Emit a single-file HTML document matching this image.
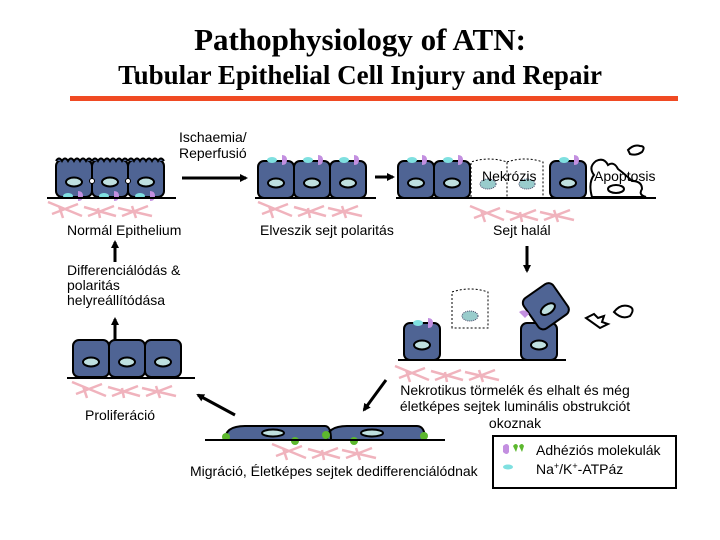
<!DOCTYPE html>
<html><head><meta charset="utf-8"><style>
body{margin:0;background:#fff;}
svg{display:block;font-family:"Liberation Sans",sans-serif;}
</style></head><body>
<svg width="720" height="540" viewBox="0 0 720 540" xmlns="http://www.w3.org/2000/svg">
<defs>
<marker id="ah" markerWidth="8" markerHeight="8" refX="6" refY="4" orient="auto" markerUnits="userSpaceOnUse"><path d="M0,0 L8,4 L0,8 z" fill="#000"/></marker>
<g id="fib" stroke="#f0b3bd" stroke-width="2.5" fill="none"><path d="M0,0 L34,14 M4,12 L30,2 M11,4 L15,16 M36,5 L68,14 M40,14 L66,4 M50,6 L52,16 M70,6 L104,14 M74,14 L100,4 M84,4 L88,16"/></g>
<g id="cell"><rect x="0" y="0" width="36" height="37" rx="6" fill="#4f6494" stroke="#000" stroke-width="2"/><ellipse cx="18" cy="22" rx="8" ry="4.5" fill="#bfe0e0" stroke="#000" stroke-width="2"/></g>
<g id="top"><ellipse cx="10" cy="0" rx="5" ry="3" fill="#7fe0e0"/><path d="M20,-5 q5,0 5,5 q0,5 -5,5 z" fill="#c38fe0"/></g>
</defs>
<text x="360" y="50" text-anchor="middle" font-family="Liberation Serif,serif" font-weight="bold" font-size="31">Pathophysiology of ATN:</text>
<text x="360" y="84" text-anchor="middle" font-family="Liberation Serif,serif" font-weight="bold" font-size="27">Tubular Epithelial Cell Injury and Repair</text>
<rect x="70" y="96" width="608" height="5" fill="#f04a23"/>

<g font-size="14">
<!-- row1 normal -->
<use href="#cell" x="56" y="160"/><use href="#cell" x="92" y="160"/><use href="#cell" x="128" y="160"/>
<path d="M56,161 q3,-5 6,0 q3,-5 6,0 q3,-5 6,0 q3,-5 6,0 q3,-5 6,0 q3,-5 6,0 M92,161 q3,-5 6,0 q3,-5 6,0 q3,-5 6,0 q3,-5 6,0 q3,-5 6,0 q3,-5 6,0 M128,161 q3,-5 6,0 q3,-5 6,0 q3,-5 6,0 q3,-5 6,0 q3,-5 6,0 q3,-5 6,0" stroke="#000" stroke-width="2" fill="#4f6494"/>
<circle cx="92" cy="181" r="2.5" fill="#fff" stroke="#000"/><circle cx="128" cy="181" r="2.5" fill="#fff" stroke="#000"/>
<use href="#top" x="58" y="196"/><use href="#top" x="94" y="196"/><use href="#top" x="130" y="196"/>
<line x1="47" y1="198" x2="176" y2="198" stroke="#000" stroke-width="2"/>
<use href="#fib" x="48" y="202"/>
<text x="67" y="235">Normál Epithelium</text>
<text x="179" y="142">Ischaemia/</text><text x="179" y="158">Reperfusió</text>
<line x1="182" y1="178" x2="246" y2="178" stroke="#000" stroke-width="3" marker-end="url(#ah)"/>

<!-- row2 -->
<use href="#cell" x="258" y="161"/><use href="#cell" x="294" y="161"/><use href="#cell" x="330" y="161"/>
<use href="#top" x="262" y="160"/><use href="#top" x="298" y="160"/><use href="#top" x="334" y="160"/>
<line x1="255" y1="198" x2="376" y2="198" stroke="#000" stroke-width="2"/>
<use href="#fib" x="258" y="202"/>
<text x="260" y="235">Elveszik sejt polaritás</text>
<line x1="375" y1="177" x2="393" y2="177" stroke="#000" stroke-width="3" marker-end="url(#ah)"/>

<!-- row3 -->
<use href="#cell" x="398" y="161"/><use href="#cell" x="434" y="161"/>
<use href="#top" x="402" y="160"/><use href="#top" x="438" y="160"/>
<path d="M471,197 V162 q18,-6 36,0 V197 M507,162 q18,-6 36,0 V197" stroke="#000" stroke-dasharray="2,2" fill="#fff"/>
<ellipse cx="488" cy="184" rx="8" ry="5" fill="#9cc" stroke="#446" stroke-dasharray="1,1"/>
<ellipse cx="527" cy="184" rx="8" ry="5" fill="#9cc" stroke="#446" stroke-dasharray="1,1"/>
<text x="482" y="181">Nekrózis</text>
<use href="#cell" x="550" y="161"/><use href="#top" x="554" y="160"/>
<path d="M592,197 q-4,-14 2,-22 q-6,-8 2,-14 q8,-4 12,4 q6,-4 10,4 q8,6 14,12 q10,0 10,8 q-4,6 4,8 z" fill="#fff" stroke="#000" stroke-width="2"/>
<ellipse cx="616" cy="189" rx="8" ry="4" fill="#fff" stroke="#000" stroke-width="2"/>
<path d="M628,150 q6,-6 12,-4 q6,0 2,6 q-6,4 -12,2 z" fill="#fff" stroke="#000" stroke-width="2"/>
<text x="594" y="181">Apoptosis</text>
<line x1="396" y1="198" x2="656" y2="198" stroke="#000" stroke-width="2"/>
<use href="#fib" x="470" y="206"/>
<text x="493" y="235">Sejt halál</text>
<line x1="527" y1="246" x2="527" y2="271" stroke="#000" stroke-width="3" marker-end="url(#ah)"/>

<text><tspan x="67" y="275">Differenciálódás &amp;</tspan><tspan x="67" y="290">polaritás</tspan><tspan x="67" y="305">helyreállítódása</tspan></text>
<line x1="115" y1="262" x2="115" y2="242" stroke="#000" stroke-width="3" marker-end="url(#ah)"/>

<!-- row4 -->
<use href="#cell" x="404" y="323"/><use href="#top" x="408" y="323"/>
<path d="M452,328 V292 q18,-6 36,0 V328 z" stroke="#000" stroke-dasharray="2,2" fill="#fff"/>
<ellipse cx="470" cy="316" rx="8" ry="5" fill="#9cc" stroke="#446" stroke-dasharray="1,1"/>
<use href="#cell" x="521" y="323"/>
<g transform="rotate(-35 545 305)"><use href="#cell" x="527" y="288"/></g>
<path d="M519,312 q6,-4 10,2 l-4,4 z" fill="#c38fe0"/>
<path d="M586,318 l8,-4 l4,4 l6,-2 l-2,6 l6,2 l-8,4 z" fill="#fff" stroke="#000" stroke-width="2"/>
<path d="M614,312 q6,-8 14,-6 q8,2 2,10 q-8,4 -16,-4 z" fill="#fff" stroke="#000" stroke-width="2"/>
<line x1="398" y1="360" x2="566" y2="360" stroke="#000" stroke-width="2"/>
<use href="#fib" x="395" y="366"/>
<text text-anchor="middle"><tspan x="515" y="395">Nekrotikus törmelék és elhalt és még</tspan><tspan x="515" y="411">életképes sejtek luminális obstrukciót</tspan><tspan x="515" y="428">okoznak</tspan></text>
<line x1="386" y1="380" x2="364" y2="410" stroke="#000" stroke-width="3" marker-end="url(#ah)"/>

<!-- prolif -->
<use href="#cell" x="73" y="340"/><use href="#cell" x="109" y="340"/><use href="#cell" x="145" y="340"/>
<line x1="67" y1="378" x2="195" y2="378" stroke="#000" stroke-width="2"/>
<use href="#fib" x="72" y="382"/>
<line x1="115" y1="340" x2="115" y2="319" stroke="#000" stroke-width="3" marker-end="url(#ah)"/>
<text x="85" y="420">Proliferáció</text>
<line x1="235" y1="415" x2="198" y2="395" stroke="#000" stroke-width="3" marker-end="url(#ah)"/>

<!-- migration -->
<path d="M225,440 q0,-14 20,-14 h80 q6,0 6,14 z M327,440 q0,-14 20,-14 h70 q8,0 8,14 z" fill="#4f6494" stroke="#000" stroke-width="2"/>
<ellipse cx="273" cy="433" rx="11" ry="3.5" fill="#bfe0e0" stroke="#000" stroke-width="2"/>
<ellipse cx="372" cy="433" rx="11" ry="3.5" fill="#bfe0e0" stroke="#000" stroke-width="2"/>
<g fill="#5cb82e"><circle cx="226" cy="437" r="4"/><circle cx="295" cy="441" r="4"/><circle cx="326" cy="435" r="4"/><circle cx="354" cy="441" r="4"/><circle cx="424" cy="436" r="4"/></g>
<line x1="205" y1="440" x2="445" y2="440" stroke="#000" stroke-width="2"/>
<use href="#fib" x="272" y="444"/>
<text x="190" y="476">Migráció, Életképes sejtek dedifferenciálódnak</text>

<!-- legend -->
<rect x="493" y="436" width="183" height="52" fill="#fff" stroke="#000" stroke-width="2"/>
<path d="M503,446 q4,-4 6,0 v6 q-2,4 -6,0 z" fill="#c38fe0"/>
<path d="M513,446 q3,-4 5,0 l-2,6 z M519,446 q3,-4 5,0 l-2,6 z" fill="#5cb82e"/>
<ellipse cx="508" cy="467" rx="5" ry="2.5" fill="#7fe0e0"/>
<text x="536" y="455">Adhéziós molekulák</text>
<text x="536" y="474">Na<tspan font-size="9" dy="-5">+</tspan><tspan dy="5">/K</tspan><tspan font-size="9" dy="-5">+</tspan><tspan dy="5">-ATPáz</tspan></text>
</g>
</svg>
</body></html>
